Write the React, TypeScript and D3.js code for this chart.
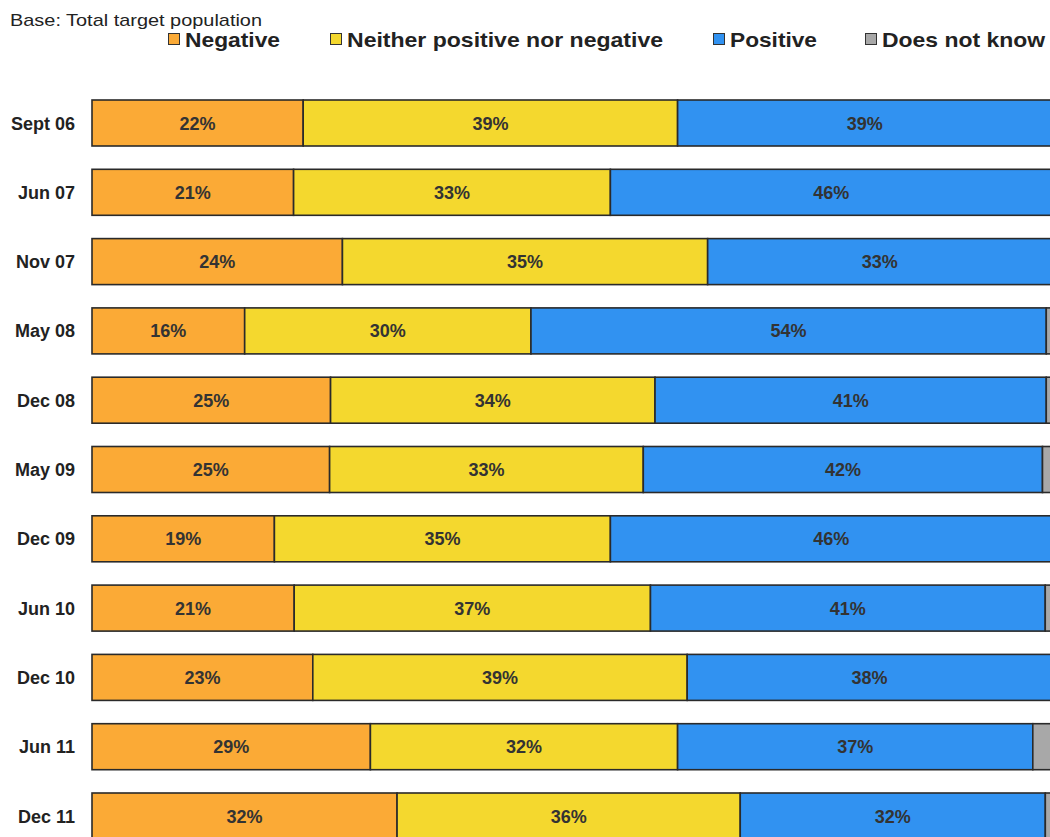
import React, { useEffect, useRef } from "react";
import * as d3 from "d3";

const categories = ["Sept 06", "Jun 07", "Nov 07", "May 08", "Dec 08", "May 09", "Dec 09", "Jun 10", "Dec 10", "Jun 11", "Dec 11"];
const seriesNames = ["Negative", "Neither positive nor negative", "Positive", "Does not know"];
const negative = [22, 21, 24, 16, 25, 25, 19, 21, 23, 29, 32];
const neither = [39, 33, 35, 30, 34, 33, 35, 37, 39, 32, 36];
const positive = [39, 46, 33, 54, 41, 42, 46, 41, 38, 37, 32];
const doesNotKnow = [0, 0, 0, 0.6, 0.6, 1, 0, 0.7, 0, 2, 0.7];
const subtitle = "Base: Total target population";

const colors = ["#FBAA36", "#F4D82E", "#3192F1", "#A8A8A8"];
const legendX = [168, 330, 713, 865];
const legendTextW = [95, 316, 87, 163];
const FONT = "'Liberation Sans', Arial, sans-serif";

export default function App() {
  const ref = useRef<SVGSVGElement | null>(null);
  useEffect(() => {
    const svg = d3.select(ref.current);
    svg.selectAll("*").remove();
    const series = [negative, neither, positive, doesNotKnow];

    const rows = categories.map((c, i) => {
      const vals = series.map((s) => s[i]);
      const total = d3.sum(vals);
      let acc = 0;
      return vals.map((v, k) => {
        const seg = { cat: c, k, v, x0: acc / total, x1: (acc + v) / total };
        acc += v;
        return seg;
      });
    });
    const x = d3.scaleLinear().domain([0, 1]).range([92, 1052]);
    const step = 69.3, bandH = 46;
    const y = d3.scaleBand<string>().domain(categories)
      .range([100, 100 + step * (categories.length - 1) + bandH])
      .paddingInner((step - bandH) / step).paddingOuter(0);

    svg.append("text").attr("x", 10).attr("y", 26).attr("font-family", FONT).attr("font-size", 17)
      .attr("fill", "#222").attr("textLength", 252).attr("lengthAdjust", "spacingAndGlyphs").text(subtitle);

    const lg = svg.append("g");
    seriesNames.forEach((name, k) => {
      const lx = legendX[k];
      lg.append("rect").attr("x", lx + 0.5).attr("y", 33.5).attr("width", 11).attr("height", 11)
        .attr("fill", colors[k]).attr("stroke", "#333").attr("stroke-width", 1);
      lg.append("text").attr("x", lx + 17).attr("y", 47).attr("font-family", FONT)
        .attr("font-size", 21).attr("font-weight", "bold").attr("fill", "#222")
        .attr("textLength", legendTextW[k]).attr("lengthAdjust", "spacingAndGlyphs").text(name);
    });

    const g = svg.append("g");
    rows.forEach((segs) => {
      const c = segs[0].cat;
      const top = y(c) as number;
      const h = y.bandwidth();
      segs.forEach((s) => {
        if (s.v <= 0) return;
        g.append("rect").attr("x", x(s.x0)).attr("y", top).attr("width", x(s.x1) - x(s.x0)).attr("height", h)
          .attr("fill", colors[s.k]).attr("stroke", "#2a2a2a").attr("stroke-width", 1.6);
        if (s.k < 3) {
          g.append("text").attr("x", (x(s.x0) + x(s.x1)) / 2).attr("y", top + h / 2 + 6.5)
            .attr("text-anchor", "middle").attr("font-family", FONT).attr("font-size", 18).attr("font-weight", "bold")
            .attr("fill", "#333").text(`${s.v}%`);
        }
      });
      g.append("text").attr("x", 75).attr("y", top + h / 2 + 6.5).attr("text-anchor", "end")
        .attr("font-family", FONT).attr("font-size", 18).attr("font-weight", "bold").attr("fill", "#222").text(c);
    });
  }, []);
  return (
    <svg ref={ref} width={1050} height={837} style={{ position: "absolute", left: 0, top: 0, background: "#fff" }} />
  );
}
